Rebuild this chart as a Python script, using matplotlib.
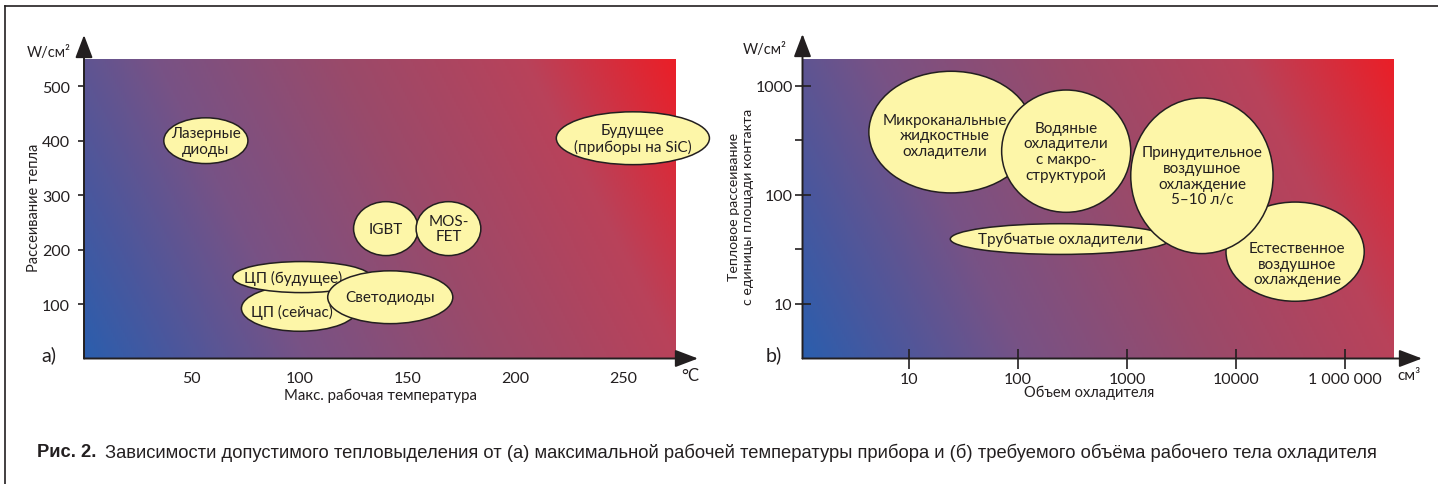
import numpy as np
import matplotlib
matplotlib.use("Agg")
import matplotlib.pyplot as plt
from matplotlib.patches import Ellipse
from matplotlib.colors import LinearSegmentedColormap

# ---------------- data ----------------
# panel a: max working temperature (°C) vs heat dissipation (W/cm2)
a_labels = ['Лазерные\nдиоды', 'IGBT', 'MOS-\nFET', 'ЦП (сейчас)', 'ЦП (будущее)',
            'Светодиоды', 'Будущее\n(приборы на SiC)']
a_temp_min = [37, 125, 154, 73, 69, 113, 219]
a_temp_max = [76, 155, 184, 127, 133, 171, 290]
a_power_min = [358, 189, 189, 50, 121, 64, 356]
a_power_max = [442, 288, 288, 134, 178, 161, 453]
a_xticks = [50, 100, 150, 200, 250]
a_yticks = [100, 200, 300, 400, 500]

# panel b: cooler volume (cm3) vs heat flux (W/cm2)
b_labels = ['Микроканальные\nжидкостные\nохладители',
            'Водяные\nохладители\nс макро-\nструктурой',
            'Трубчатые охладители',
            'Естественное\nвоздушное\nохлаждение',
            'Принудительное\nвоздушное\nохлаждение\n5–10 л/с']
b_vol_min = [4.3, 71, 24, 8100, 1084]
b_vol_max = [139, 1084, 2520, 150000, 21900]
b_flux_min = [104, 69, 28.3, 10.5, 28.8]
b_flux_max = [1365, 918, 54.2, 85.7, 776]
b_xtick_vals = [10, 100, 1000, 10000, 100000]
b_xtick_labels = ['10', '100', '1000', '10000', '1 000 000']
b_ytick_vals = [10, 100, 1000]
b_ytick_labels = ['10', '100', '1000']

# ---------------- style ----------------
FONT = ['Lato', 'DejaVu Sans']
plt.rcParams['font.family'] = FONT
INK = '#231f20'
FILL = '#fdf6a8'
cmap = LinearSegmentedColormap.from_list(
    'grad', [(0.0, '#2b5ead'), (0.12, '#4a579d'), (0.3, '#785285'),
             (0.55, '#9a4a6a'), (0.8, '#b9425a'), (1.0, '#ea1f28')])

fig = plt.figure(figsize=(14.38, 4.85), dpi=100)
W, H = 1438, 485


def fx(px):
    return px / W


def fy(py):
    return 1 - py / H


def gradient(ax, x0, x1, y0, y1, wpx, hpx):
    n = 300
    u = np.linspace(0, 1, n)[None, :]
    v = np.linspace(0, 1, n)[:, None]
    t = (u * wpx ** 2 + v * hpx ** 2) / (wpx ** 2 + hpx ** 2)
    ax.imshow(cmap(t), extent=(x0, x1, y0, y1), origin='lower',
              aspect='auto', zorder=0, interpolation='bilinear')


def arrows(ax, xtip, ytip):
    kw = dict(arrowstyle='-|>,head_length=1.0,head_width=0.38', lw=1.4,
              color=INK, shrinkA=0, shrinkB=0)
    ax.annotate('', xy=(xtip, 0), xytext=(0, 0), xycoords='axes fraction',
                arrowprops=dict(kw, mutation_scale=14), annotation_clip=False)
    ax.annotate('', xy=(0, ytip), xytext=(0, 0), xycoords='axes fraction',
                arrowprops=dict(kw, mutation_scale=14), annotation_clip=False)
    for s in ax.spines.values():
        s.set_visible(False)


# ---------------- panel a ----------------
axa = fig.add_axes([fx(84), fy(359.5), fx(676) - fx(84), fy(60) - fy(359.5)])
axa.set_xlim(0, 274.5)
axa.set_ylim(0, 550)
gradient(axa, 0, 274.5, 0, 550, 592, 300)
arrows(axa, (698 - 84) / 592, (359.5 - 36) / 299.5)
axa.set_xticks(a_xticks)
axa.set_yticks(a_yticks)
axa.tick_params(axis='x', length=0, pad=9, labelsize=11.5, labelcolor=INK)
axa.tick_params(axis='y', length=4, width=1.2, color=INK, direction='out',
                pad=6, labelsize=11.5, labelcolor=INK)

a_text_shift = {3: (-3.5, -5), 4: (-4, 0)}
for i, lab in enumerate(a_labels):
    cx = (a_temp_min[i] + a_temp_max[i]) / 2
    cy = (a_power_min[i] + a_power_max[i]) / 2
    e = Ellipse((cx, cy), a_temp_max[i] - a_temp_min[i],
                a_power_max[i] - a_power_min[i], facecolor=FILL,
                edgecolor=INK, lw=1.1, zorder=2 + i, clip_on=False)
    axa.add_patch(e)
    dx, dy = a_text_shift.get(i, (0, 0))
    axa.text(cx + dx, cy + dy, lab, ha='center', va='center', fontsize=11,
             color=INK, zorder=2 + i, linespacing=1.15)

fig.text(fx(71), fy(53), 'W/см²', ha='right', va='center', fontsize=10.5, color=INK)
fig.text(fx(34), fy(208), 'Рассеивание тепла', rotation=90, ha='center',
         va='center', fontsize=10.5, color=INK)
fig.text(fx(49), fy(355), 'a)', ha='center', va='center', fontsize=14, color=INK)
fig.text(fx(380), fy(396), 'Макс. рабочая температура', ha='center',
         va='center', fontsize=10.8, color=INK)
fig.text(fx(690), fy(376), '°C', ha='center', va='center', fontsize=12, color=INK)

# ---------------- panel b ----------------
bx0, bx1 = 0.025, 5.44
by0, by1 = 0.495, 3.248
axb = fig.add_axes([fx(802.5), fy(359.5), fx(1393) - fx(802.5), fy(60) - fy(359.5)])
axb.set_xlim(bx0, bx1)
axb.set_ylim(by0, by1)
gradient(axb, bx0, bx1, by0, by1, 590, 300)
arrows(axb, (1422 - 802.5) / 590.5, (359.5 - 35) / 299.5)
axb.set_xticks(np.log10(b_xtick_vals))
axb.set_xticklabels(b_xtick_labels)
axb.set_yticks(np.log10(b_ytick_vals))
axb.set_yticklabels(b_ytick_labels)
axb.set_yticks([1.5, 2.5], minor=True)
axb.tick_params(axis='x', length=14, width=1.2, color=INK, direction='inout',
                pad=3, labelsize=11.5, labelcolor=INK)
axb.tick_params(axis='y', which='major', length=12, width=1.2, color=INK,
                direction='inout', pad=1, labelsize=11.5, labelcolor=INK)
axb.tick_params(axis='y', which='minor', length=6, width=1.2, color=INK,
                direction='out')

b_text_shift = {0: (-0.06, -0.03), 3: (0.02, -0.11)}
for i, lab in enumerate(b_labels):
    lx0, lx1 = np.log10(b_vol_min[i]), np.log10(b_vol_max[i])
    ly0, ly1 = np.log10(b_flux_min[i]), np.log10(b_flux_max[i])
    cx, cy = (lx0 + lx1) / 2, (ly0 + ly1) / 2
    e = Ellipse((cx, cy), lx1 - lx0, ly1 - ly0, facecolor=FILL,
                edgecolor=INK, lw=1.1, zorder=2 + i)
    axb.add_patch(e)
    dx, dy = b_text_shift.get(i, (0, 0))
    axb.text(cx + dx, cy + dy, lab, ha='center', va='center', fontsize=11,
             color=INK, zorder=2 + i, linespacing=1.15)

fig.text(fx(787), fy(50), 'W/см²', ha='right', va='center', fontsize=10.5, color=INK)
fig.text(fx(741), fy(207), 'Тепловое рассеивание\nс единицы площади контакта',
         rotation=90, ha='center', va='center', fontsize=10.2, color=INK,
         linespacing=1.3)
fig.text(fx(774), fy(355), 'b)', ha='center', va='center', fontsize=14, color=INK)
fig.text(fx(1089), fy(393), 'Объем охладителя', ha='center', va='center',
         fontsize=10.5, color=INK)
fig.text(fx(1409), fy(376), 'см³', ha='center', va='center', fontsize=11, color=INK)

# ---------------- frame & caption ----------------
fig.add_artist(plt.Line2D([fx(5), fx(5)], [0, fy(7)], color=INK, lw=1.2))
fig.add_artist(plt.Line2D([fx(5), 1], [fy(7), fy(7)], color=INK, lw=1.2))
cap_font = ['Liberation Sans', 'DejaVu Sans']
fig.text(fx(37), fy(453), 'Рис. 2.', ha='left', va='center', fontsize=13.2,
         fontweight='bold', color=INK, family=cap_font)
fig.text(fx(105), fy(453),
         'Зависимости допустимого тепловыделения от (а) максимальной рабочей '
         'температуры прибора и (б) требуемого объёма рабочего тела охладителя',
         ha='left', va='center', fontsize=13.2, color=INK, family=cap_font)

fig.savefig('out.png', dpi=100)
